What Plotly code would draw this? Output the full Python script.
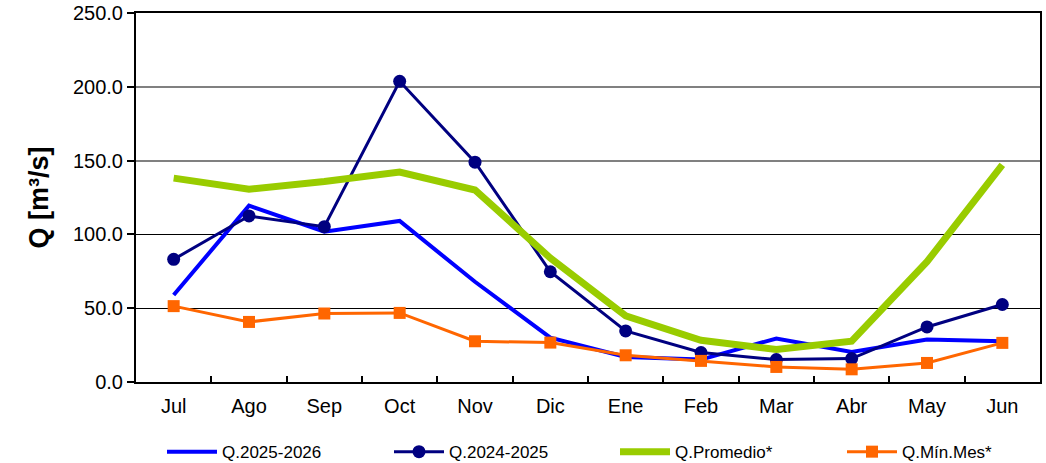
import plotly.graph_objects as go

months = ["Jul", "Ago", "Sep", "Oct", "Nov", "Dic", "Ene", "Feb", "Mar", "Abr", "May", "Jun"]
q_2025_2026 = [58.9, 119.5, 101.8, 109.1, 67.9, 30.1, 17.0, 15.2, 29.5, 20.4, 28.8, 27.6]
q_2024_2025 = [83.1, 112.5, 105.2, 203.7, 148.9, 74.7, 34.6, 20.0, 15.2, 15.9, 37.3, 52.5]
q_promedio = [138.1, 130.6, 135.8, 142.2, 130.1, 84.0, 44.8, 28.3, 22.0, 27.6, 81.5, 147.1]
q_min_mes = [51.4, 40.7, 46.4, 46.8, 27.6, 26.7, 18.1, 14.3, 10.2, 8.6, 12.9, 26.5]

y_ticks = [0, 50, 100, 150, 200, 250]
grey_grid = [150, 200]
black_grid = [50, 100]

W, H = 1046, 463
ML, MR, MT, MB = 136, 6, 13, 81
plot_w = W - ML - MR

def lx(px):
    return (px - ML) / plot_w

fig = go.Figure()
# helper traces so the overlay grid axes are drawn
fig.add_trace(go.Scatter(x=[], y=[], yaxis="y2", showlegend=False, hoverinfo="skip"))
fig.add_trace(go.Scatter(x=[], y=[], yaxis="y3", showlegend=False, hoverinfo="skip"))

fig.add_trace(go.Scatter(x=months, y=q_2025_2026, name="Q.2025-2026", mode="lines",
                         line=dict(color="#0000FF", width=4), legend="legend"))
fig.add_trace(go.Scatter(x=months, y=q_2024_2025, name="Q.2024-2025", mode="lines+markers",
                         line=dict(color="#000080", width=3),
                         marker=dict(symbol="circle", size=13, color="#000080"), legend="legend2"))
fig.add_trace(go.Scatter(x=months, y=q_promedio, name="Q.Promedio*", mode="lines",
                         line=dict(color="#99CC00", width=7), legend="legend3"))
fig.add_trace(go.Scatter(x=months, y=q_min_mes, name="Q.Mín.Mes*", mode="lines+markers",
                         line=dict(color="#FF6600", width=3),
                         marker=dict(symbol="square", size=12, color="#FF6600"), legend="legend4"))

font_family = "Liberation Sans, Arial, sans-serif"

def leg(px):
    return dict(orientation="h", x=lx(px), y=-0.19, xanchor="left", yanchor="middle",
                font=dict(size=17, family=font_family), itemwidth=50,
                bgcolor="rgba(0,0,0,0)")

fig.update_layout(
    width=W, height=H,
    margin=dict(l=ML, r=MR, t=MT, b=MB, autoexpand=False),
    paper_bgcolor="white", plot_bgcolor="white",
    font=dict(family=font_family, color="black", size=20),
    showlegend=True,
    legend=leg(162), legend2=leg(389), legend3=leg(615), legend4=leg(842),
    xaxis=dict(type="category", categoryorder="array", categoryarray=months,
               showline=True, linecolor="black", linewidth=2, mirror=True,
               ticks="inside", tickson="boundaries", ticklen=6, tickwidth=1.5, tickcolor="black",
               showgrid=False, tickfont=dict(size=20), range=[-0.5, 11.5],
               automargin=False, ticklabelstandoff=5),
    yaxis=dict(range=[0, 250], tickvals=y_ticks, tickformat=".1f",
               showline=True, linecolor="black", linewidth=2, mirror=True,
               ticks="outside", ticklen=7, tickwidth=1.5, tickcolor="black",
               showgrid=False, zeroline=False, tickfont=dict(size=20),
               automargin=False),
    yaxis2=dict(range=[0, 250], overlaying="y", tickvals=grey_grid, showticklabels=False,
                showgrid=True, gridcolor="#808080", gridwidth=1.5, showline=False, zeroline=False,
                ticks="", automargin=False),
    yaxis3=dict(range=[0, 250], overlaying="y", tickvals=black_grid, showticklabels=False,
                showgrid=True, gridcolor="black", gridwidth=1.2, showline=False, zeroline=False,
                ticks="", automargin=False),
    annotations=[dict(text="<b>Q [m³/s]</b>", textangle=-90, showarrow=False,
                      xref="paper", yref="paper", x=lx(38), y=0.5,
                      xanchor="center", yanchor="middle",
                      font=dict(size=27, family=font_family, color="black"))],
)

fig.write_html("out.html", config={"displayModeBar": False},
               post_script="document.body.style.margin='0';")
